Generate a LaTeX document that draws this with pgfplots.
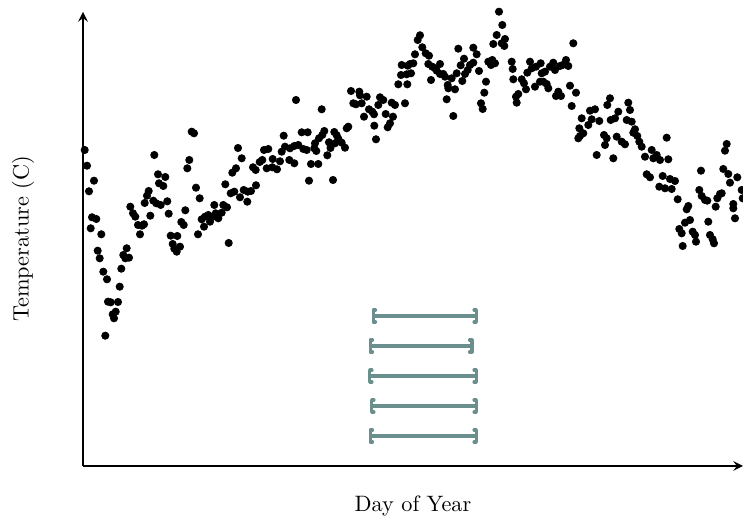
\documentclass[border=0pt]{standalone}
\usepackage{pgfplots}
\usepackage{pgfplotstable}
\pgfplotsset{compat=1.18}
\usetikzlibrary{calc,arrows.meta}
\definecolor{barc}{RGB}{106,143,140}

% daily temperatures (x = day position, y = temperature, axis units)
\pgfplotstableread{
x y
1.7 316
4 300.3
11 285.3
6 274.7
71.3 311
75 291.7
82.3 289
76 282.7
80.3 280
65.7 275
64 270.3
70.3 265.3
73.3 262.7
77.7 261
84.3 264.7
61.7 263
47.3 259.3
50 252.7
52.3 249.3
67.3 250.3
85.7 252.3
102.3 255.7
98.3 244
100.7 241
55 241
59 240.3
61 241.7
57 231.7
87.7 230.3
94.3 230
89.7 222
91.3 217.3
93.7 214.3
97 219.3
9 248.7
13.3 247
7.7 237.7
18.3 231.7
43.7 217.7
40.3 211
42.3 207.7
46 208.3
14.7 215.3
16.7 207.7
38.3 197.3
20.3 194.3
24 186.7
36.7 179.3
25 164.3
27.7 163.7
35 164
32.7 154.3
29.7 151.7
31 147.7
22.3 130.3
213 366
108.7 334.3
111 332.7
106.3 306
104.3 297.7
200.7 330.3
155 318
158.7 307.7
181 316
185.3 317
198.7 314.3
202 319.3
207 317.7
211.3 320
215.3 321
179.3 306
176.7 304
189.7 307
197 304.7
206.3 306
211.3 302.7
170 298.7
172.7 296
183.7 297.7
189.3 298.7
194 296.7
153 297.7
149.3 293.3
113 278.3
116.7 267.7
142.3 281.7
147.7 272.7
151.3 274.3
157 268.7
160.7 276
164.7 274.3
168 275
164.3 264.3
173 280.7
131.3 261
140.3 261
144 258.7
118.7 246.7
122 249.3
125.3 251
128.7 248.7
127 244.3
132.7 252.7
135.3 247.7
138.7 253.3
121 239.3
115 231.7
145.7 223
218.7 333.7
224.7 333.7
318.7 401
324.7 400.3
318 391
323.7 391.7
315.3 381.7
324.3 381.7
268 375
276.3 374.3
277 370.7
283.7 369.3
238.7 356.7
270.3 362.7
273 361.7
278.7 362.7
297 368.7
300.3 366
295.3 361
308.7 363.3
312 361
322 362.7
286 356.7
289.3 354.3
291 351.7
281 349.3
302.7 352
310 349.3
307 342.7
304.7 338.7
291.3 340.3
265.3 339.3
263.7 337.7
293 326.7
241.3 335
239.3 331
251.3 334
253.7 330.7
255.3 327.3
258.7 323.3
262 318.3
252 322.7
236 327.7
232 322.7
231.3 317.7
246 323.7
247.5 318
220.3 317
223.7 316
233.3 315
244.3 310.7
228 302
235.3 302
226 285.3
250 286
416 454.3
419.3 441
413.7 431
422 427
410.3 422
418.7 422.7
421.3 420
337 430.7
334.7 426
339.3 418.7
342.7 412.7
346 410.3
332 411.7
327 402
330.3 402.7
328 392.7
345.3 402
349.3 399.3
352 397.7
357 402
353.7 395.3
357 392
360.3 392
362 389.3
348 386
375.3 417.3
390.3 418.3
393.7 411.7
381 407.3
377.7 400.7
373.7 392.7
384.7 396
387 401
390.3 403.3
382 392
379.3 385
368.7 387.7
364.7 381
365.3 377.7
372 376.7
363.7 366.7
370.3 350
396 395
405.3 404.3
409.3 406
408 401
412 402.7
403 384.3
401.3 373.3
398 362.7
399.7 357
490.3 422.7
428.7 404.3
429.7 397
447 404.3
457.7 402.7
470.3 403.3
483 406
444.3 393.3
448.7 397.7
453 399.3
458.7 392.7
462 394.3
467 399.3
472 396
477 400
479.7 401
485.3 400
430.3 386.7
438.7 386.7
441 382.7
452 379.3
457 384.3
460.3 384.3
463.7 382
465.3 377.7
443 376.7
435.3 372
433 369.3
433.7 363.3
475.3 374.3
473 370
478 370
487 380.3
493 373.3
488.7 360
498.7 347.7
507 355.3
512 356.7
508.7 346.7
516.3 345
524.3 361
527 367.7
496.3 337.7
497 330
500.3 332.7
505.3 341
495.3 327.7
527.7 346
532 347.7
535.3 354.3
521 331
523.7 327.7
522 321
533.7 329.3
513.7 311
530.3 307.7
545.3 363.3
547 356
543.7 346
548.7 344.3
552 336.7
550.3 333.3
554.3 330
556.3 324.3
558.7 319.3
538.7 324.3
542 321.7
583.7 328.3
568.7 316
573.7 311
570.3 307.7
577 306
585.3 306.7
562 309.3
563.7 291.7
567 288.7
579.7 290
587 287
592 285
576.3 279.3
582 277.7
588.7 277
618 295.3
643.7 322
642 315.3
640.3 297
645.3 292
647 283.3
654.3 288.7
594.7 266.7
616.3 276
618.7 270
622 266
624.3 265.3
637 272
634.3 267.7
638.7 272.7
658.7 276
659.7 267.7
650.3 262
650.3 257.7
605.3 260
603.7 256.7
632.7 259.3
652 247.7
607 246
602 243.3
596.3 237
598.7 232.7
625.3 244.3
609.7 234.3
612 231
613 224.3
627 231
629.7 226.7
631 222.7
599.7 220
}\temps

\tikzset{brk/.style={-, arrows={Bracket[width=6.8pt,length=1.1pt,round]-Bracket[width=6.8pt,length=1.1pt,round]}}}

\begin{document}
\begin{tikzpicture}
\begin{axis}[
    x=0.449pt, y=0.449pt,
    xmin=0, xmax=660, ymin=0, ymax=454,
    axis lines=left,
    axis line style={line width=0.9pt},
    xtick=\empty, ytick=\empty,
    clip=false,
    xlabel={Day of Year},
    ylabel={Temperature (C)},
    xlabel style={at={(axis description cs:0.5,-0.088)}, anchor=center},
    ylabel style={at={(axis description cs:-0.091,0.5)}, anchor=center},
]
    % temperatures
    \addplot[only marks, mark=*, mark size=1.6pt, black] table[x=x, y=y] {\temps};

    % periods
    \addplot[barc, line width=1.4pt, brk] coordinates {(288.5,150) (395,150)};
    \addplot[barc, line width=1.4pt, brk] coordinates {(285.5,120) (390.5,120)};
    \addplot[barc, line width=1.4pt, brk] coordinates {(285,90) (395,90)};
    \addplot[barc, line width=1.4pt, brk] coordinates {(287,60) (395,60)};
    \addplot[barc, line width=1.4pt, brk] coordinates {(285.5,30) (395,30)};
\end{axis}
\pgfresetboundingbox
\path[use as bounding box] ($(current axis.south west)+(-37.27pt,-22.45pt)$) rectangle ($(current axis.north east)+(0pt,5.39pt)$);
\end{tikzpicture}
\end{document}
